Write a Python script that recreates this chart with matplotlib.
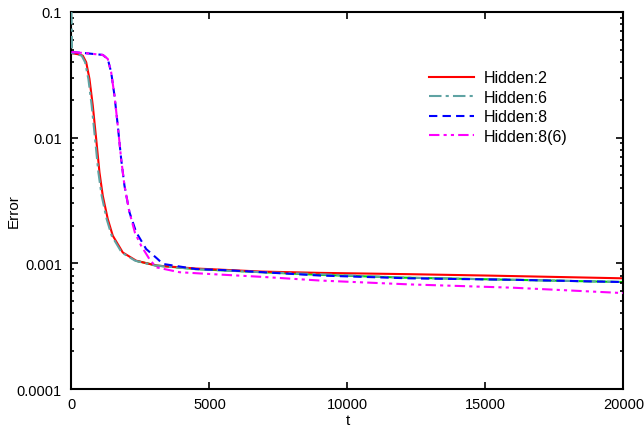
import numpy as np
import matplotlib
matplotlib.use("Agg")
import matplotlib.pyplot as plt
from matplotlib.ticker import FixedLocator, LogLocator, NullFormatter

plt.rcParams['font.family'] = ['Liberation Sans', 'DejaVu Sans']

# Hidden:2 (red, solid)
t_h2 = [0, 250, 409, 533, 652, 772, 895, 1014, 1134, 1315, 1496, 1859, 2344,
        3069, 4500, 6900, 9000, 12250, 15000, 17500, 20000]
err_h2 = [0.047, 0.046, 0.0449, 0.0398, 0.0293, 0.0180, 0.00975, 0.0053,
          0.00345, 0.00225, 0.00166, 0.00122, 0.00105, 0.00096, 0.00091,
          0.00086, 0.00084, 0.00082, 0.00080, 0.00078, 0.00076]

# Hidden:6 (teal, dash-dot)
t_h6 = [0, 20, 210, 369, 493, 612, 732, 855, 974, 1094, 1275, 1456, 1819,
        2304, 3029, 4500, 6900, 9000, 12000, 16000, 20000]
err_h6 = [0.1, 0.047, 0.046, 0.0449, 0.0398, 0.0293, 0.0180, 0.00975, 0.0053,
          0.00345, 0.00225, 0.00166, 0.00122, 0.00105, 0.00096, 0.00090,
          0.00085, 0.00082, 0.00077, 0.00074, 0.00071]

# unlabelled green run, visible only under the blue curve in the tail
t_g = [2400, 3100, 4500, 6900, 9000, 12000, 16000, 20000]
err_g = [0.00104, 0.00096, 0.00090, 0.00085, 0.00081, 0.00077, 0.00074,
         0.00071]

# Hidden:8 (blue, dashed)
t_h8 = [0, 500, 1134, 1315, 1438, 1558, 1678, 1800, 1920, 2101, 2344, 2706,
        3127, 3308, 4518, 5724, 6932, 9000, 12250, 16000, 20000]
err_h8 = [0.048, 0.047, 0.0455, 0.0423, 0.0331, 0.0216, 0.01245, 0.00676,
          0.00415, 0.00255, 0.00177, 0.00130, 0.00108, 0.00099, 0.00090,
          0.00088, 0.00085, 0.00080, 0.00076, 0.00074, 0.00071]

# Hidden:8(6) (magenta, dash-dot-dot)
t_h86 = [0, 500, 1134, 1315, 1438, 1558, 1678, 1800, 1920, 2101, 2300, 2525,
         2826, 3069, 3913, 5120, 6932, 9000, 12250, 16000, 20000]
err_h86 = [0.048, 0.047, 0.0455, 0.0423, 0.0331, 0.0216, 0.01245, 0.00676,
           0.00415, 0.00255, 0.00175, 0.00138, 0.00108, 0.00093, 0.00085,
           0.00082, 0.00078, 0.00073, 0.00068, 0.00064, 0.00058]

fig = plt.figure(figsize=(6.44, 4.31), dpi=100)
ax = fig.add_axes([0.111, 0.095, 0.857, 0.875])

ax.semilogy(t_g, err_g, color='#00dd00', lw=1.5, zorder=1)
ax.semilogy(t_h2, err_h2, color='#ff0000', lw=1.5, label='Hidden:2', zorder=2)
ax.semilogy(t_h6, err_h6, color='#5fa3a3', lw=1.5, dashes=(6, 2, 1.5, 2),
            label='Hidden:6', zorder=3)
ax.semilogy(t_h8, err_h8, color='#0000ff', lw=1.5, dashes=(4, 2.5),
            label='Hidden:8', zorder=4)
ax.semilogy(t_h86, err_h86, color='#ff00ff', lw=1.5,
            dashes=(5, 2, 1.5, 2, 1.5, 2), label='Hidden:8(6)', zorder=5)

ax.set_xlim(0, 20000)
ax.set_ylim(0.0001, 0.1)
ax.xaxis.set_major_locator(FixedLocator([0, 5000, 10000, 15000, 20000]))
ax.set_xticklabels(['0', '5000', '10000', '15000', '20000'])
ax.yaxis.set_major_locator(FixedLocator([0.0001, 0.001, 0.01, 0.1]))
ax.set_yticklabels(['0.0001', '0.001', '0.01', '0.1'])
ax.yaxis.set_minor_locator(LogLocator(base=10, subs=np.arange(2, 10)))
ax.yaxis.set_minor_formatter(NullFormatter())

ax.tick_params(which='both', direction='in', top=True, right=True,
               labelsize=10.5, width=1.2)
ax.tick_params(which='major', length=5)
ax.tick_params(axis='y', which='major', pad=7)
ax.tick_params(axis='x', which='major', pad=6)
ax.tick_params(which='minor', length=2.5)
for s in ax.spines.values():
    s.set_linewidth(1.5)

ax.set_xlabel('t', fontsize=11, labelpad=1)
ax.set_ylabel('Error', fontsize=11)
ax.yaxis.set_label_coords(-0.092, 0.475)

ax.legend(loc='upper right', bbox_to_anchor=(0.925, 0.883), frameon=False,
          fontsize=11.5, handlelength=2.85, handletextpad=0.6,
          labelspacing=0.28)

fig.savefig('out.png', dpi=100)
